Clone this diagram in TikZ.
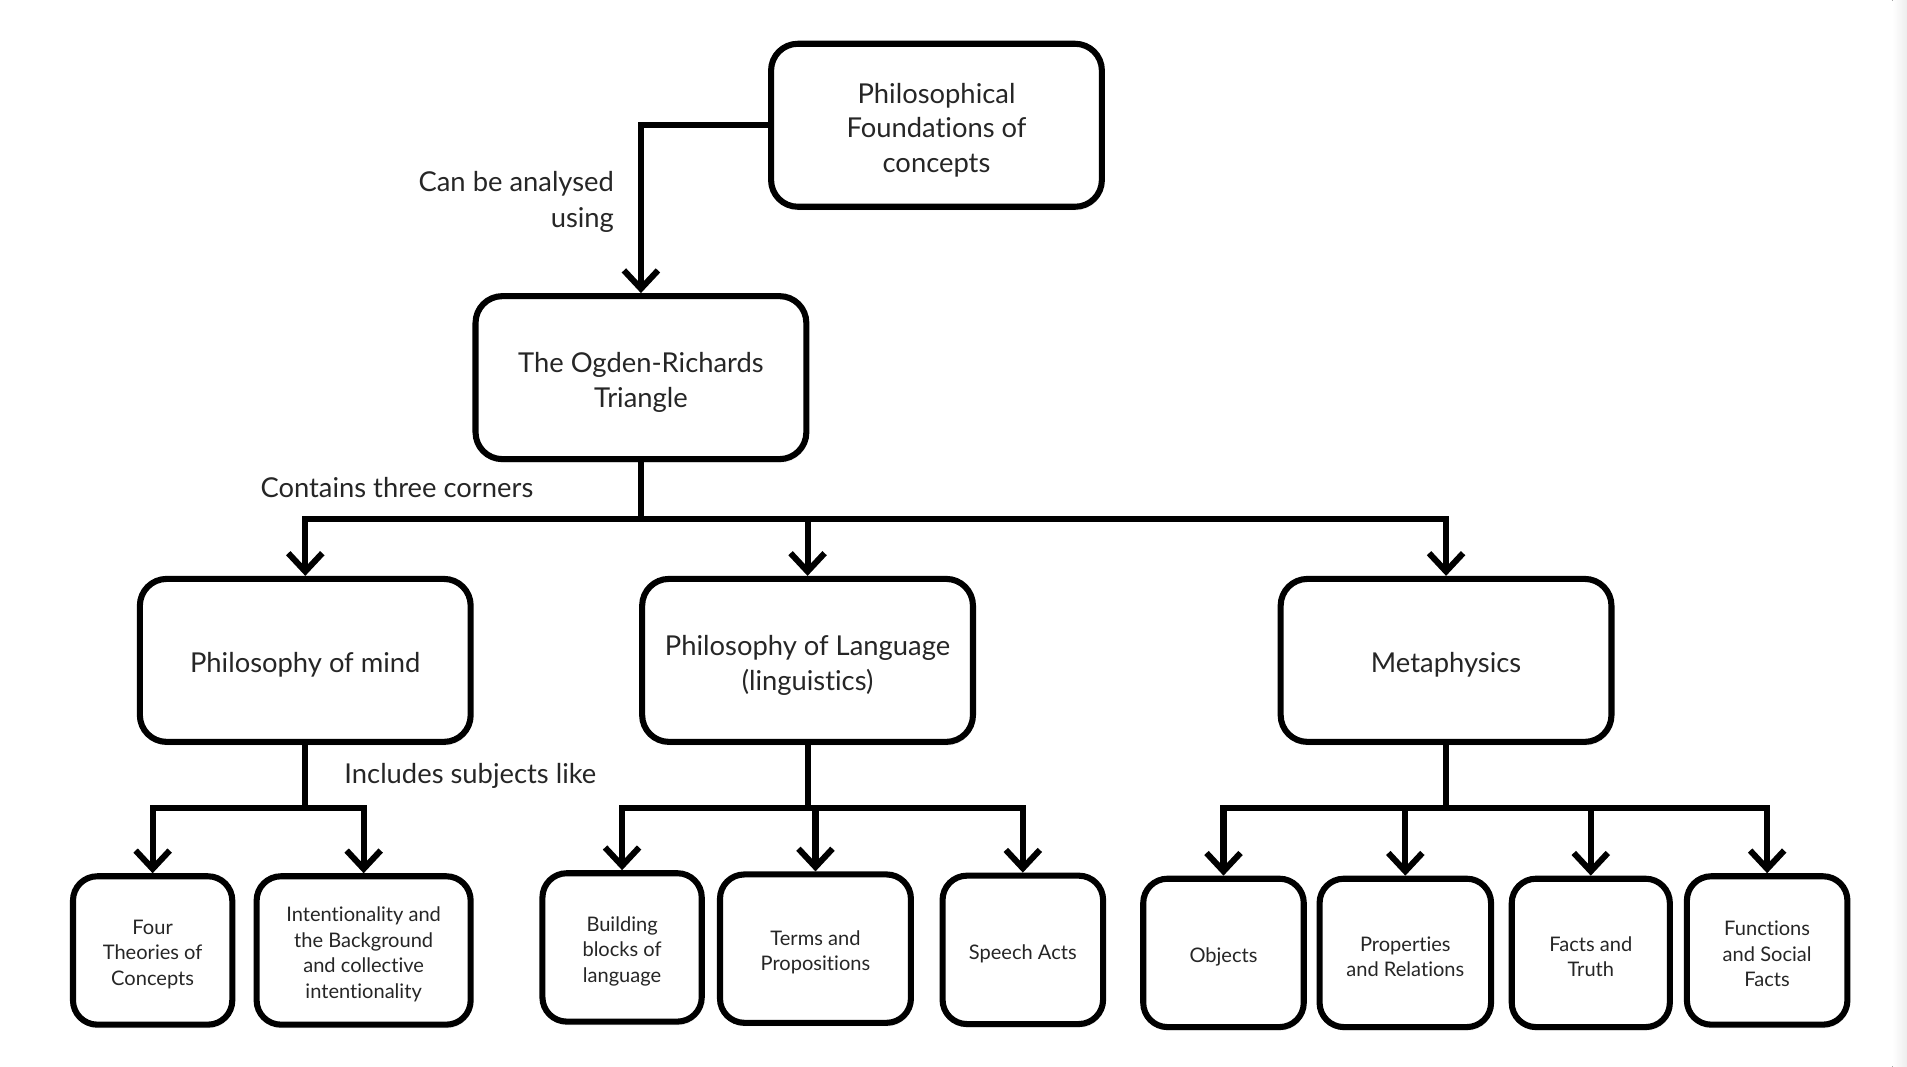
\documentclass[tikz,border=0pt]{standalone}
\usepackage{fontspec}
\setmainfont{Lato}[Ligatures={NoCommon}]
\usetikzlibrary{arrows.meta,shadows}
\begin{document}
\begin{tikzpicture}[x=1pt,y=-1pt,
  box/.style={draw=black, line width=5pt, rounded corners=22pt, fill=white,
    inner sep=0pt, minimum width=272pt, minimum height=134pt,
    drop shadow={shadow xshift=1pt, shadow yshift=-3pt, opacity=0.12}},
  sbox/.style={box, rounded corners=20pt, minimum height=122pt},
  btxt/.style={align=center, text=black!85, inner sep=0pt, font=\fontsize{22.5}{28.5}\selectfont},
  stxt/.style={btxt, font=\fontsize{16.5}{21}\selectfont},
  lbl/.style={text=black!85, font=\fontsize{22.5}{30}\selectfont, inner sep=0pt},
  conn/.style={line width=5pt, draw=black},
  arr/.style={conn, -{Straight Barb[length=15pt,width=28pt,line width=5pt]}}]
\useasboundingbox (0,0) rectangle (1568,877);
\fill[left color=white, right color=black!7] (1556,0) rectangle (1568,877);

% top levels
\node[box] (top) at (770,103) {};
\node[btxt] (topt) at ([yshift=-4pt]top.center) {Philosophical\\Foundations of\\concepts};
\node[box] (ogden) at (527,310.5) {};
\node[btxt] (ogdent) at ([yshift=-4pt]ogden.center) {The Ogden-Richards\\Triangle};
\node[box] (pom) at (251,543) {};
\node[btxt] (pomt) at ([yshift=-4pt]pom.center) {Philosophy of mind};
\node[box] (pol) at (664,543) {};
\node[btxt] (polt) at ([yshift=-4pt]pol.center) {Philosophy of Language\\(linguistics)};
\node[box] (meta) at (1189,543) {};
\node[btxt] (metat) at ([yshift=-4pt]meta.center) {Metaphysics};

% bottom row
\node[sbox, minimum width=131pt] (four) at (125.5,781.5) {};
\node[stxt] (fourt) at ([yshift=-3pt]four.center) {Four\\Theories of\\Concepts};
\node[sbox, minimum width=176pt] (intent) at (299,781.5) {};
\node[stxt] (intentt) at ([yshift=-3pt]intent.center) {Intentionality and\\the Background\\and collective\\intentionality};
\node[sbox, minimum width=131pt] (build) at (511.5,779) {};
\node[stxt] (buildt) at ([yshift=-3pt]build.center) {Building\\blocks of\\language};
\node[sbox, minimum width=157pt] (terms) at (670.5,780) {};
\node[stxt] (termst) at ([yshift=-3pt]terms.center) {Terms and\\Propositions};
\node[sbox, minimum width=132pt] (speech) at (841,781) {};
\node[stxt] (speecht) at ([yshift=-3pt]speech.center) {Speech Acts};
\node[sbox, minimum width=132pt] (objects) at (1006,783.5) {};
\node[stxt] (objectst) at ([yshift=-3pt]objects.center) {Objects};
\node[sbox, minimum width=141pt] (props) at (1155.5,783.5) {};
\node[stxt] (propst) at ([yshift=-3pt]props.center) {Properties\\and Relations};
\node[sbox, minimum width=130pt] (facts) at (1308,783.5) {};
\node[stxt] (factst) at ([yshift=-3pt]facts.center) {Facts and\\Truth};
\node[sbox, minimum width=132pt] (funcs) at (1453,781.5) {};
\node[stxt] (funcst) at ([yshift=-3pt]funcs.center) {Functions\\and Social\\Facts};

% labels
\node[lbl, align=right, anchor=east] (l1) at (505,166) {Can be analysed\\using};
\node[lbl, anchor=west] (l2) at (214,401) {Contains three corners};
\node[lbl, anchor=west] (l3) at (283,638) {Includes subjects like};

% connectors
\draw[arr] (top.west) -| (ogden.north);

\coordinate (b1) at (527,427);
\draw[conn] (ogden.south) -- (b1);
\draw[arr] (b1) -| (pom.north);
\draw[arr] (b1) -| (pol.north);
\draw[arr] (b1) -| (meta.north);

\coordinate (b2) at (251,664);
\draw[conn] (pom.south) -- (b2);
\draw[arr] (b2) -| (four.north);
\draw[arr] (b2) -| (intent.north);

\coordinate (b3) at (664,664);
\draw[conn] (pol.south) -- (b3);
\draw[arr] (b3) -| (build.north);
\draw[arr] (b3) -| (terms.north);
\draw[arr] (b3) -| (speech.north);

\coordinate (b4) at (1189,664);
\draw[conn] (meta.south) -- (b4);
\draw[arr] (b4) -| (objects.north);
\draw[arr] (b4) -| (props.north);
\draw[arr] (b4) -| (facts.north);
\draw[arr] (b4) -| (funcs.north);
\end{tikzpicture}
\end{document}
